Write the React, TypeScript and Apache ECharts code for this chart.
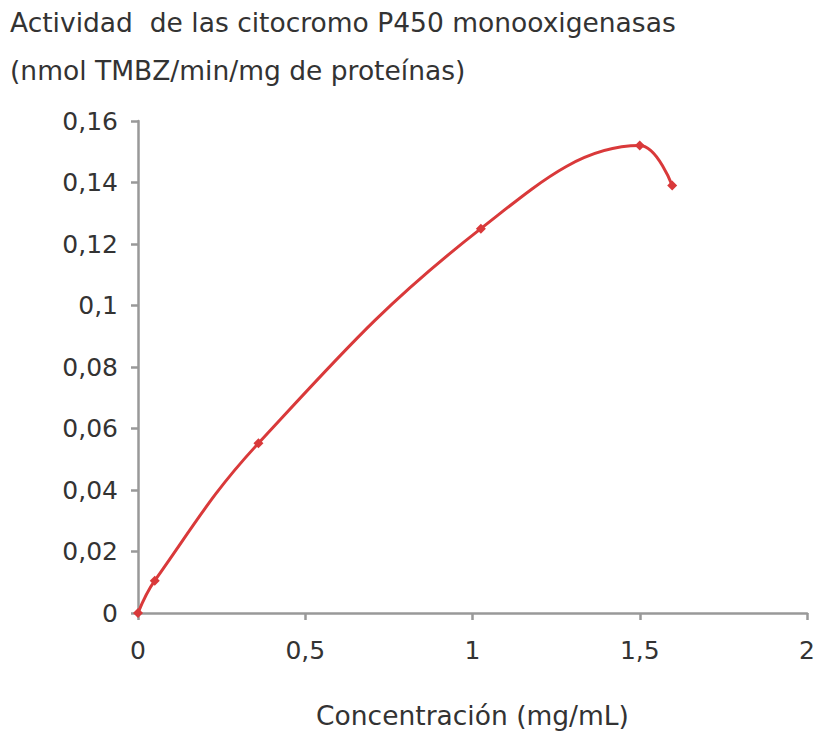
import React, { useEffect, useRef } from "react";
import * as echarts from "echarts";

const concentracion = [0, 0.05, 0.36, 1.025, 1.5, 1.597];
const actividad = [0, 0.0105, 0.0552, 0.125, 0.152, 0.139];
const titleLines = [
  "Actividad  de las citocromo P450 monooxigenasas",
  "(nmol TMBZ/min/mg de proteínas)",
];
const xName = "Concentración (mg/mL)";

const fmt = (v: number) => String(v).replace(".", ",");

export default function App() {
  const ref = useRef<HTMLDivElement>(null);
  useEffect(() => {
    const chart = echarts.init(ref.current!, null, { renderer: "svg" });
    const font = "DejaVu Sans, Verdana, sans-serif";
    chart.setOption({
      animation: false,
      backgroundColor: "#fff",
      textStyle: { fontFamily: font },
      graphic: titleLines.map((t, i) => ({
        type: "text",
        left: 10,
        top: 9 + i * 48,
        style: { text: t, fontSize: 26.5, fill: "#333", fontFamily: font },
      })),
      grid: { left: 138, right: 11, top: 121, bottom: 122, containLabel: false },
      xAxis: {
        type: "value",
        min: 0,
        max: 2,
        interval: 0.5,
        name: xName,
        nameLocation: "middle",
        nameGap: 89,
        nameTextStyle: { fontSize: 26.5, color: "#333", fontFamily: font },
        axisLine: { lineStyle: { color: "#999", width: 2.5 } },
        axisTick: { show: true, length: 7, lineStyle: { color: "#999", width: 2.5 } },
        axisLabel: { fontSize: 25, color: "#333", margin: 25, formatter: fmt },
        splitLine: { show: false },
      },
      yAxis: {
        type: "value",
        min: 0,
        max: 0.16,
        interval: 0.02,
        axisLine: { show: true, lineStyle: { color: "#999", width: 2.5 } },
        axisTick: { show: true, length: 7, lineStyle: { color: "#999", width: 2.5 } },
        axisLabel: { fontSize: 25, color: "#333", margin: 20, formatter: fmt },
        splitLine: { show: false },
      },
      series: [
        {
          type: "line",
          data: concentracion.map((x, i) => [x, actividad[i]]),
          smooth: 0.4,
          symbol: "diamond",
          symbolSize: 10,
          lineStyle: { color: "#d9393a", width: 3 },
          itemStyle: { color: "#d9393a" },
        },
      ],
    });
    return () => chart.dispose();
  }, []);
  return <div ref={ref} style={{ width: 818, height: 735, position: "absolute", left: 0, top: 0 }} />;
}
